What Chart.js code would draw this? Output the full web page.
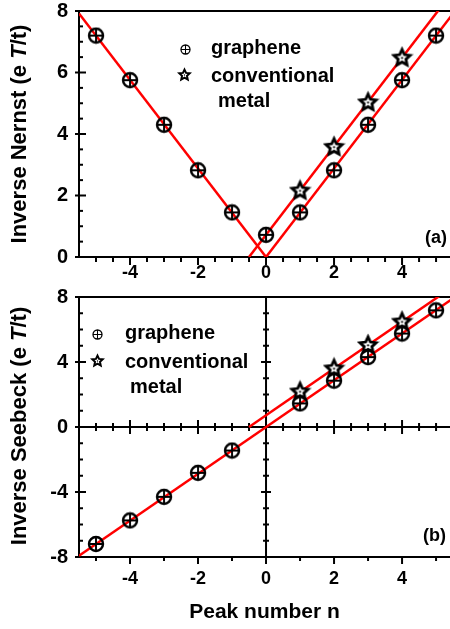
<!DOCTYPE html>
<html>
<head>
<meta charset="utf-8">
<script src="https://cdn.jsdelivr.net/npm/chart.js@4.4.1/dist/chart.umd.min.js"></script>
<style>
  html, body { margin: 0; padding: 0; background: #fff; width: 450px; height: 629px; overflow: hidden; }
  canvas { position: absolute; left: 0; }
  #chartA { top: 0; }
  #chartB { top: 285px; }
  .txt { position: absolute; font: bold 20px "Liberation Sans", Arial, sans-serif; line-height: 20px; color: #000; white-space: nowrap; }
  .ytitle { position: absolute; font: bold 22px "Liberation Sans", Arial, sans-serif; line-height: 22px; white-space: nowrap;
            transform: translate(-50%, -50%) rotate(-90deg); }
  .sym { position: absolute; }
</style>
</head>
<body>
<canvas id="chartA" width="450" height="290"></canvas>
<canvas id="chartB" width="450" height="344"></canvas>

<div class="ytitle" style="left:19px; top:134px">Inverse Nernst (e <i>T</i>/t)</div>
<div class="ytitle" style="left:19px; top:426px">Inverse Seebeck (e <i>T</i>/t)</div>

<div class="txt" style="left:211px; top:37px">graphene</div>
<div class="txt" style="left:211px; top:65px">conventional</div>
<div class="txt" style="left:218px; top:90px">metal</div>

<div class="txt" style="left:125px; top:322px">graphene</div>
<div class="txt" style="left:125px; top:351px">conventional</div>
<div class="txt" style="left:130px; top:376px">metal</div>

<div class="txt" style="left:425px; top:228px; font-size:18px; line-height:18px">(a)</div>
<div class="txt" style="left:423px; top:526px; font-size:18px; line-height:18px">(b)</div>

<script>
// peak numbers and values
const peakA = [-5, -4, -3, -2, -1, 0, 1, 2, 3, 4, 5];
const grapheneNernst = [7.2, 5.75, 4.3, 2.82, 1.45, 0.72, 1.45, 2.82, 4.3, 5.75, 7.2];
const peakMetal = [1, 2, 3, 4];
const metalNernst = [2.18, 3.6, 5.05, 6.5];

const peakB = [-5, -4, -3, -2, -1, 1, 2, 3, 4, 5];
const grapheneSeebeck = [-7.2, -5.75, -4.3, -2.82, -1.45, 1.45, 2.85, 4.3, 5.75, 7.18];
const metalSeebeck = [2.22, 3.64, 5.08, 6.52];

// fitted straight lines, end points
const fitNernstLeftX = [-5.5, 0], fitNernstLeftY = [7.92, 0];
const fitNernstGrX = [0, 5.5], fitNernstGrY = [0, 7.92];
const fitNernstMetX = [-0.5, 5.5], fitNernstMetY = [0, 8.64];
const fitSeebeckGrX = [-5.5, 5.5], fitSeebeckGrY = [-7.92, 7.92];
const fitSeebeckMetX = [-0.5, 5.5], fitSeebeckMetY = [0, 8.64];

const xTickLabels = [-4, -2, 0, 2, 4];
const yTickLabelsA = [0, 2, 4, 6, 8];
const yTickLabelsB = [-8, -4, 0, 4, 8];

const pts = (xs, ys) => xs.map((v, i) => ({ x: v, y: ys[i] }));

// marker images
function crossCircle(r, lw) {
  const s = 2 * r + 4;
  const c = document.createElement('canvas');
  c.width = c.height = s;
  const g = c.getContext('2d');
  g.strokeStyle = '#000';
  g.lineWidth = lw;
  g.beginPath(); g.arc(s / 2, s / 2, r, 0, Math.PI * 2); g.stroke();
  g.lineWidth = lw * 0.8;
  g.beginPath();
  g.moveTo(s / 2 - r, s / 2); g.lineTo(s / 2 + r, s / 2);
  g.moveTo(s / 2, s / 2 - r); g.lineTo(s / 2, s / 2 + r);
  g.stroke();
  return c;
}
function star(R, lw, dot) {
  const s = Math.ceil(2 * R + 6);
  const c = document.createElement('canvas');
  c.width = c.height = s;
  const g = c.getContext('2d');
  const cx = s / 2, cy = s / 2 + R * 0.1;
  g.beginPath();
  for (let k = 0; k < 10; k++) {
    const a = -Math.PI / 2 + k * Math.PI / 5;
    const rad = k % 2 ? R * 0.48 : R;
    g.lineTo(cx + rad * Math.cos(a), cy + rad * Math.sin(a));
  }
  g.closePath();
  g.fillStyle = '#fff'; g.fill();
  g.lineWidth = lw; g.strokeStyle = '#000'; g.lineJoin = 'miter'; g.stroke();
  g.beginPath(); g.arc(cx, cy, dot, 0, Math.PI * 2);
  g.fillStyle = '#000'; g.fill();
  return c;
}
const markGr = crossCircle(7, 2.4);
const markMet = star(8.5, 2.8, 1.1);

function seg(ctx, x0, y0, x1, y1) {
  ctx.beginPath(); ctx.moveTo(x0, y0); ctx.lineTo(x1, y1); ctx.stroke();
}
function steps(a, b, d) {
  const out = [];
  for (let v = a; v <= b + 1e-9; v += d) out.push(Math.round(v * 100) / 100);
  return out;
}

const tickFont = (size) => ({ family: 'Liberation Sans', weight: 'bold', size: size, lineHeight: 1 });

function lineSet(xs, ys) {
  return { data: pts(xs, ys), showLine: true, borderColor: '#ff0000', borderWidth: 2.5, pointRadius: 0, order: 3 };
}
function markSet(xs, ys, img, ord) {
  return { data: pts(xs, ys), showLine: false, pointStyle: img, pointRadius: 8, order: ord };
}

function noPad(s) { s.paddingLeft = 0; s.paddingRight = 0; s.paddingTop = 0; s.paddingBottom = 0; }

function scales(yMin, yMax, yTicks, xHeight, xPad, title) {
  return {
    x: {
      type: 'linear', min: -5.5, max: 5.41,
      grid: { display: false, drawTicks: false }, border: { display: false },
      afterBuildTicks: s => { s.ticks = xTickLabels.map(v => ({ value: v })); },
      afterFit: s => { s.height = xHeight; noPad(s); },
      ticks: { font: tickFont(18), color: '#000', padding: xPad, autoSkip: false, maxRotation: 0, callback: v => String(v) },
      title: title ? { display: true, text: title, color: '#000',
                       font: { family: 'Liberation Sans', weight: 'bold', size: 21 }, padding: { top: 0, bottom: 4 } }
                   : { display: false }
    },
    y: {
      type: 'linear', min: yMin, max: yMax,
      grid: { display: false, drawTicks: false }, border: { display: false },
      afterBuildTicks: s => { s.ticks = yTicks.map(v => ({ value: v })); },
      afterFit: s => { s.width = 79; noPad(s); },
      ticks: { font: tickFont(20), color: '#000', padding: 11, callback: v => String(v) }
    }
  };
}

const baseOpts = { responsive: false, animation: false, events: [],
                   plugins: { legend: { display: false }, tooltip: { enabled: false } } };

// axes for panel (a)
const axesA = {
  id: 'axesA',
  beforeDatasetsDraw(chart) {
    const { ctx, chartArea: a, scales: { x, y } } = chart;
    ctx.save();
    ctx.strokeStyle = '#000'; ctx.lineWidth = 2;
    seg(ctx, a.left, a.top, a.right, a.top);
    seg(ctx, a.left, a.top - 1, a.left, a.bottom + 1);
    seg(ctx, a.left - 1, a.bottom, a.right, a.bottom);
    steps(0, 8, 0.5).forEach(v => {
      const py = y.getPixelForValue(v), major = v % 2 === 0;
      seg(ctx, major ? a.left - 4 : a.left, py, a.left + (major ? 7 : 4), py);
    });
    steps(-5, 5, 0.5).forEach(v => {
      const px = x.getPixelForValue(v), major = v % 2 === 0;
      seg(ctx, px, a.bottom, px, a.bottom + (major ? 8 : 5));
    });
    ctx.restore();
  }
};

// axes for panel (b): frame plus crossing axes through zero
const axesB = {
  id: 'axesB',
  beforeDatasetsDraw(chart) {
    const { ctx, chartArea: a, scales: { x, y } } = chart;
    ctx.save();
    ctx.strokeStyle = '#000'; ctx.lineWidth = 2;
    seg(ctx, a.left, a.top, a.right, a.top);
    seg(ctx, a.left, a.top - 1, a.left, a.bottom + 1);
    seg(ctx, a.left - 1, a.bottom, a.right, a.bottom);
    steps(-8, 8, 1).forEach(v => {
      const py = y.getPixelForValue(v), major = v % 4 === 0;
      seg(ctx, major ? a.left - 4 : a.left, py, a.left + (major ? 7 : 4), py);
    });
    steps(-5, 5, 1).forEach(v => {
      const px = x.getPixelForValue(v), major = v % 2 === 0;
      seg(ctx, px, a.bottom, px, a.bottom + (major ? 7 : 4));
    });
    const y0 = y.getPixelForValue(0), x0 = x.getPixelForValue(0);
    seg(ctx, a.left, y0, a.right, y0);
    seg(ctx, x0, a.top, x0, a.bottom);
    steps(-5, 5, 0.5).forEach(v => {
      const px = x.getPixelForValue(v), h = v % 2 === 0 ? 7 : 4;
      seg(ctx, px, y0 - h, px, y0 + h);
    });
    steps(-8, 8, 1).forEach(v => {
      const py = y.getPixelForValue(v), h = v % 4 === 0 ? 5 : 3;
      seg(ctx, x0 - h, py, x0 + h, py);
    });
    ctx.restore();
  }
};

new Chart(document.getElementById('chartA'), {
  type: 'scatter',
  data: { datasets: [
    lineSet(fitNernstLeftX, fitNernstLeftY),
    lineSet(fitNernstGrX, fitNernstGrY),
    lineSet(fitNernstMetX, fitNernstMetY),
    markSet(peakMetal, metalNernst, markMet, 2),
    markSet(peakA, grapheneNernst, markGr, 1)
  ] },
  options: Object.assign({}, baseOpts, {
    layout: { autoPadding: false, padding: { top: 11, left: 0, right: 0, bottom: 0 } },
    scales: scales(0, 8, yTickLabelsA, 33, 7, null)
  }),
  plugins: [axesA]
});

new Chart(document.getElementById('chartB'), {
  type: 'scatter',
  data: { datasets: [
    lineSet(fitSeebeckGrX, fitSeebeckGrY),
    lineSet(fitSeebeckMetX, fitSeebeckMetY),
    markSet(peakMetal, metalSeebeck, markMet, 2),
    markSet(peakB, grapheneSeebeck, markGr, 1)
  ] },
  options: Object.assign({}, baseOpts, {
    layout: { autoPadding: false, padding: { top: 12, left: 0, right: 0, bottom: 0 } },
    scales: scales(-8, 8, yTickLabelsB, 72, 13, 'Peak number n')
  }),
  plugins: [axesB]
});

// legend glyphs
function placeSym(img, cx, cy) {
  img.className = 'sym';
  img.style.left = (cx - img.width / 2) + 'px';
  img.style.top = (cy - img.height / 2) + 'px';
  document.body.appendChild(img);
}
placeSym(crossCircle(4.5, 1.3), 185, 49);
placeSym(star(5.5, 2, 0.7), 184, 74);
placeSym(crossCircle(4.5, 1.3), 97, 334);
placeSym(star(5.5, 2, 0.7), 97, 360);
</script>
</body>
</html>
